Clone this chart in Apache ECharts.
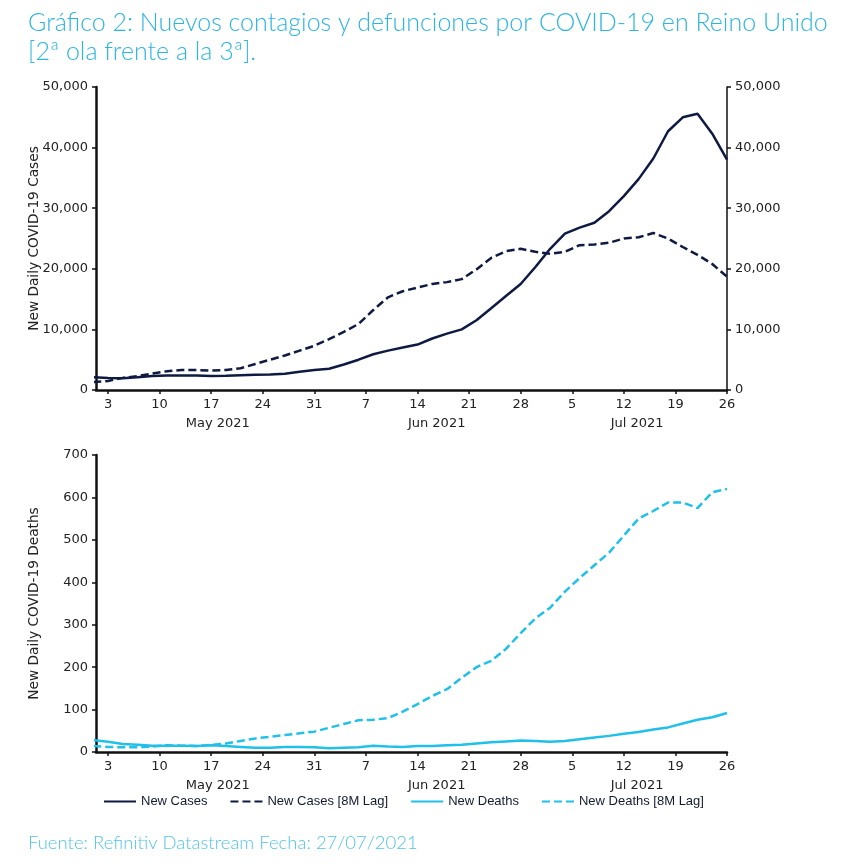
<!DOCTYPE html>
<html>
<head>
<meta charset="utf-8">
<script src="https://cdn.jsdelivr.net/npm/echarts@6/dist/echarts.min.js"></script>
<style>
html,body{margin:0;padding:0;background:#fff;}
#c{width:845px;height:867px;}
</style>
</head>
<body>
<div id="c"></div>
<script>
// Day index: 0 = 1 May 2021
const days = [0,2,4,6,8,10,12,14,16,18,20,22,24,26,28,30,32,34,36,38,40,42,44,46,48,50,52,54,56,58,60,62,64,66,68,70,72,74,76,78,80,82,84,86];
const newCases = [2100,2000,1950,2100,2300,2400,2400,2400,2300,2350,2450,2500,2550,2700,3000,3300,3500,4200,5000,5900,6500,7000,7500,8500,9300,10000,11500,13500,15500,17500,20300,23300,25800,26800,27600,29500,32000,34800,38200,42700,45000,45600,42300,38000];
const newCasesLag = [1300,1500,2000,2300,2700,3100,3300,3300,3200,3300,3600,4300,5000,5700,6500,7300,8400,9600,10900,13200,15300,16300,16900,17500,17800,18300,19900,21800,22900,23300,22800,22500,22800,23900,24000,24300,25000,25200,25900,25000,23600,22300,20800,18700];
const newDeaths = [28,24,19,17,15,15,15,14,16,14,12,10,10,12,12,11,9,10,11,15,13,12,14,14,16,17,20,23,25,27,26,24,26,30,34,38,43,47,53,58,67,76,82,92];
const newDeathsLag = [14,12,11,11,13,16,15,14,17,20,26,32,36,40,44,48,57,66,75,76,80,95,113,132,148,175,200,215,243,280,315,340,378,410,440,470,510,550,568,588,588,575,612,620];
const tickDays = [2,9,16,23,30,37,44,51,58,65,72,79,86];
const tickLabels = ['3','10','17','24','31','7','14','21','28','5','12','19','26'];
const monthPos = [16.9,46.6,73.8];
const monthLabels = ['May 2021','Jun 2021','Jul 2021'];

const NAVY = '#0e1a42';
const CYAN = '#1fc0ea';
const AX = '#111';
const FONT = 'DejaVu Sans';

function pairs(v){ return days.map((d,i)=>[d,v[i]]); }
function tickAxis(grid){
  return {
    type:'value', gridIndex:grid, min:0.37, max:86,
    axisLine:{show:true,onZero:false,lineStyle:{color:AX,width:2.5}},
    axisTick:{show:true,length:4,customValues:tickDays,lineStyle:{color:AX,width:1.5}},
    axisLabel:{customValues:tickDays,margin:8,color:'#222',fontFamily:FONT,fontSize:13,
      formatter:function(v){const i=tickDays.indexOf(Math.round(v));return i>=0?tickLabels[i]:'';}},
    splitLine:{show:false}
  };
}
function monthAxis(grid){
  return {
    type:'value', gridIndex:grid, min:0.37, max:86, position:'bottom',
    axisLine:{show:false}, axisTick:{show:false}, splitLine:{show:false},
    axisLabel:{customValues:monthPos,margin:27,color:'#222',fontFamily:FONT,fontSize:13,
      formatter:function(v){let k=0,b=1e9;monthPos.forEach((p,i)=>{if(Math.abs(p-v)<b){b=Math.abs(p-v);k=i;}});return monthLabels[k];}}
  };
}
const fmt = v => v.toLocaleString('en-US');

const chart = echarts.init(document.getElementById('c'));
chart.setOption({
  animation:false,
  backgroundColor:'#fff',
  title:[
    {text:'Gráfico 2: Nuevos contagios y defunciones por COVID-19 en Reino Unido\n[2ª ola frente a la 3ª].',
     left:23, top:3,
     textStyle:{color:'#2db5e2',fontFamily:'Lato',fontWeight:300,fontSize:25,lineHeight:29}},
    {text:'Fuente: Refinitiv Datastream Fecha: 27/07/2021', left:23, top:829,
     textStyle:{color:'#52c3e8',fontFamily:'Lato',fontWeight:300,fontSize:18.5}}
  ],
  grid:[
    {left:96,right:118,top:87,bottom:477},
    {left:96,right:118,top:455,bottom:115}
  ],
  legend:{
    left:103, top:795, padding:0, itemGap:22, itemWidth:32, itemHeight:3,
    itemStyle:{opacity:0},
    textStyle:{color:'#141a30',fontFamily:'Liberation Sans',fontSize:13},
    data:['New Cases','New Cases [8M Lag]','New Deaths','New Deaths [8M Lag]']
  },
  xAxis:[tickAxis(0),monthAxis(0),tickAxis(1),monthAxis(1)],
  yAxis:[
    {type:'value',gridIndex:0,min:0,max:50000,interval:10000,position:'left',
     name:'New Daily COVID-19 Cases',nameLocation:'middle',nameGap:55,nameMoveOverlap:false,
     nameTextStyle:{color:'#222',fontFamily:FONT,fontSize:13.7},
     axisLine:{show:true,lineStyle:{color:AX,width:2.5}},
     axisTick:{show:true,length:4,lineStyle:{color:AX,width:1.5}},
     axisLabel:{color:'#222',fontFamily:FONT,fontSize:13,margin:8,formatter:fmt},
     splitLine:{show:false}},
    {type:'value',gridIndex:0,min:0,max:50000,interval:10000,position:'right',
     axisLine:{show:true,lineStyle:{color:AX,width:1.5}},
     axisTick:{show:true,length:4,lineStyle:{color:AX,width:1.5}},
     axisLabel:{color:'#222',fontFamily:FONT,fontSize:13,margin:8,formatter:fmt},
     splitLine:{show:false}},
    {type:'value',gridIndex:1,min:0,max:700,interval:100,position:'left',
     name:'New Daily COVID-19 Deaths',nameLocation:'middle',nameGap:55,nameMoveOverlap:false,
     nameTextStyle:{color:'#222',fontFamily:FONT,fontSize:13.7},
     axisLine:{show:true,lineStyle:{color:AX,width:2.5}},
     axisTick:{show:true,length:4,lineStyle:{color:AX,width:1.5}},
     axisLabel:{color:'#222',fontFamily:FONT,fontSize:13,margin:8},
     splitLine:{show:false}}
  ],
  series:[
    {name:'New Cases',type:'line',xAxisIndex:0,yAxisIndex:0,data:pairs(newCases),symbol:'none',
     lineStyle:{color:NAVY,width:2.5},itemStyle:{color:NAVY}},
    {name:'New Cases [8M Lag]',type:'line',xAxisIndex:0,yAxisIndex:0,data:pairs(newCasesLag),symbol:'none',
     lineStyle:{color:NAVY,width:2.5,type:[8,4]},itemStyle:{color:NAVY}},
    {name:'New Deaths',type:'line',xAxisIndex:2,yAxisIndex:2,data:pairs(newDeaths),symbol:'none',
     lineStyle:{color:CYAN,width:2.5},itemStyle:{color:CYAN}},
    {name:'New Deaths [8M Lag]',type:'line',xAxisIndex:2,yAxisIndex:2,data:pairs(newDeathsLag),symbol:'none',
     lineStyle:{color:CYAN,width:2.5,type:[8,4]},itemStyle:{color:CYAN}}
  ]
});
</script>
</body>
</html>
